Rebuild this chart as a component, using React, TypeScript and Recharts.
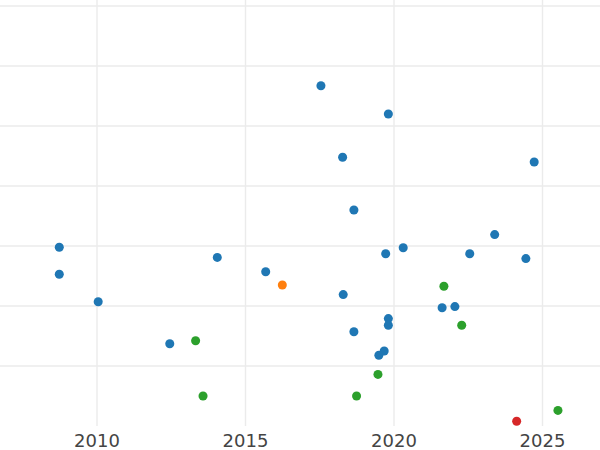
import { ScatterChart, Scatter, XAxis, YAxis, ReferenceLine } from "recharts";

// years and (unitless) values
const blueYears = [
  2017.54, 2019.81, 2018.27, 2024.72, 2018.65, 2008.73, 2008.73, 2010.04,
  2014.05, 2015.68, 2012.45, 2023.39, 2020.31, 2019.72, 2022.55, 2024.44,
  2018.29, 2021.62, 2022.05, 2019.81, 2019.81, 2018.65, 2019.67, 2019.49,
];
const blueValues = [
  5.67, 5.2, 4.48, 4.4, 3.6, 2.98, 2.53, 2.07,
  2.81, 2.57, 1.37, 3.19, 2.97, 2.87, 2.87, 2.79,
  2.19, 1.97, 1.99, 1.79, 1.68, 1.57, 1.25, 1.18,
];
const greenYears = [2013.32, 2013.57, 2021.68, 2022.28, 2019.46, 2018.74, 2025.52];
const greenValues = [1.42, 0.5, 2.33, 1.68, 0.86, 0.5, 0.26];
const orangeYears = [2016.24];
const orangeValues = [2.35];
const redYears = [2024.13];
const redValues = [0.08];

const xTicks = [2010, 2015, 2020, 2025];
const yTicks = [1, 2, 3, 4, 5, 6, 7];

const pts = (xs: number[], ys: number[]) => xs.map((x, i) => ({ x, y: ys[i] }));

const grid = { stroke: "#ebebeb", strokeWidth: 1.4 };

export default function App() {
  return (
    <div style={{ position: "absolute", left: 0, top: 0, background: "#fff" }}>
      <ScatterChart width={600} height={450} margin={{ top: 0, right: 0, bottom: 0, left: 0 }}>
        <XAxis
          type="number"
          dataKey="x"
          domain={[2006.734, 2026.936]}
          ticks={xTicks}
          axisLine={false}
          tickLine={false}
          height={24}
          tick={{ fill: "#444", fontSize: 18, fontFamily: "DejaVu Sans" }}
        />
        <YAxis type="number" dataKey="y" domain={[0, 7.1]} ticks={yTicks} hide />
        {yTicks.map((t) => (
          <ReferenceLine key={"y" + t} y={t} {...grid} />
        ))}
        {xTicks.map((t) => (
          <ReferenceLine key={"x" + t} x={t} {...grid} />
        ))}
        <Scatter data={pts(blueYears, blueValues)} fill="#1f77b4" isAnimationActive={false} />
        <Scatter data={pts(orangeYears, orangeValues)} fill="#ff7f0e" isAnimationActive={false} />
        <Scatter data={pts(greenYears, greenValues)} fill="#2ca02c" isAnimationActive={false} />
        <Scatter data={pts(redYears, redValues)} fill="#d62728" isAnimationActive={false} />
      </ScatterChart>
    </div>
  );
}
